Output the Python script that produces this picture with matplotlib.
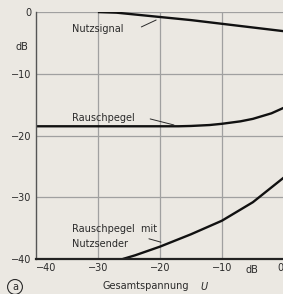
import numpy as np
import matplotlib.pyplot as plt

# values (dB)
nutz_x = [-30, -27, -24, -20, -15, -10, -5, 0]
nutz_y = [0.0, -0.1, -0.4, -0.8, -1.3, -1.9, -2.5, -3.1]

rausch_x = [-40, -30, -20, -17, -15, -12, -10, -7, -5, -2, 0]
rausch_y = [-18.5, -18.5, -18.5, -18.5, -18.45, -18.3, -18.1, -17.7, -17.3, -16.4, -15.5]

rnutz_x = [-26, -24, -20, -15, -10, -5, 0]
rnutz_y = [-40.0, -39.4, -38.0, -36.0, -33.8, -30.8, -26.8]

xticks = [-40, -30, -20, -10, 0]
yticks = [0, -10, -20, -30, -40]

bg = "#ebe8e2"
ink = "#2a2a2a"

fig = plt.figure(figsize=(2.83, 2.94), dpi=100, facecolor=bg)
ax = fig.add_axes([0.127, 0.119, 0.876, 0.840], facecolor=bg)

ax.plot(nutz_x, nutz_y, color="#111111", lw=1.7, solid_capstyle="butt")
ax.plot(rausch_x, rausch_y, color="#111111", lw=1.7, solid_capstyle="butt")
ax.plot(rnutz_x, rnutz_y, color="#111111", lw=1.7, solid_capstyle="butt")

ax.set_xlim(-40, 0)
ax.set_ylim(-40, 0)
for v in xticks[1:]:
    ax.axvline(v, color="#a0a0a0", lw=0.9, zorder=0)
for v in yticks[:-1]:
    ax.axhline(v, color="#a0a0a0", lw=0.9, zorder=0)

for s in ["top", "right"]:
    ax.spines[s].set_visible(False)
ax.spines["left"].set_color("#555555")
ax.spines["left"].set_linewidth(1.0)
ax.spines["bottom"].set_color("#222222")
ax.spines["bottom"].set_linewidth(1.6)

ax.set_xticks(xticks)
ax.set_xticklabels(["\u221240", "\u221230", "\u221220", "\u221210", "0"])
ax.set_yticks(yticks)
ax.set_yticklabels(["0", "\u221210", "\u221220", "\u221230", "\u221240"])
ax.tick_params(length=0, labelsize=7, colors=ink, pad=3)
xl = ax.get_xticklabels()
xl[-1].set_horizontalalignment("right")
xl[0].set_horizontalalignment("left")
ax.text(-5.2, -41.0, "dB", fontsize=7, color=ink, ha="center", va="top")
ax.text(-41.3, -5.7, "dB", fontsize=7, color=ink, ha="right", va="center")

ax.text(-29.3, -44.4, "Gesamtspannung", fontsize=7, color=ink, ha="left", va="center")
ax.text(-12.8, -44.4, "$U$", fontsize=7, color=ink, ha="center", va="center")
fig.text(0.053, 0.024, "a", fontsize=7, color=ink, ha="center", va="center",
         bbox=dict(boxstyle="circle,pad=0.25", fc="none", ec=ink, lw=0.8))

ax.text(-34.2, -2.8, "Nutzsignal", fontsize=7, color=ink, ha="left", va="center")
ax.annotate("", xy=(-20.2, -1.1), xytext=(-23.4, -2.6),
            arrowprops=dict(arrowstyle="-", color=ink, lw=0.7))
ax.text(-34.2, -17.1, "Rauschpegel", fontsize=7, color=ink, ha="left", va="center")
ax.annotate("", xy=(-17.3, -18.4), xytext=(-22.0, -17.2),
            arrowprops=dict(arrowstyle="-", color=ink, lw=0.7))
ax.text(-34.2, -35.2, "Rauschpegel  mit", fontsize=7, color=ink, ha="left", va="center")
ax.text(-34.2, -37.6, "Nutzsender", fontsize=7, color=ink, ha="left", va="center")
ax.annotate("", xy=(-19.4, -37.4), xytext=(-22.2, -36.6),
            arrowprops=dict(arrowstyle="-", color=ink, lw=0.7))

fig.savefig("out.png", dpi=100, facecolor=bg)
